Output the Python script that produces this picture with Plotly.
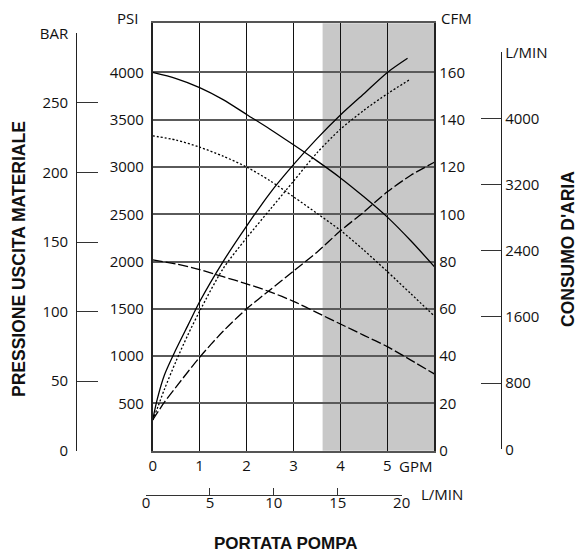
import plotly.graph_objects as go

W, H = 580, 554

# ---------------- data ----------------
gpm_ticks = [0, 1, 2, 3, 4, 5]
psi_ticks = [500, 1000, 1500, 2000, 2500, 3000, 3500, 4000]
cfm_ticks = [0, 20, 40, 60, 80, 100, 120, 140, 160]
bar_ticks = [0, 50, 100, 150, 200, 250, 300]
bar_text = ["0", "50", "100", "150", "200", "250", "BAR"]
air_lmin_ticks = [0, 800, 1600, 2400, 3200, 4000, 4800]
air_lmin_text = ["0", "800", "1600", "2400", "3200", "4000", "L/MIN"]
flow_lmin_ticks = [0, 5, 10, 15, 20]

shade_gpm = [3.62, 6.0]

# material pressure curves (PSI vs GPM)
p_solid_gpm = [0, 0.5, 1, 1.5, 2, 2.5, 3, 3.5, 4, 4.5, 5, 5.5, 6]
p_solid_psi = [4000, 3935, 3840, 3713, 3556, 3400, 3235, 3065, 2885, 2685, 2470, 2220, 1947]

p_dot_gpm = [0, 0.5, 1, 1.5, 2, 2.5, 3, 3.5, 4, 4.5, 5, 5.5, 6]
p_dot_psi = [3330, 3285, 3210, 3115, 3000, 2855, 2685, 2510, 2330, 2120, 1894, 1660, 1425]

p_dash_gpm = [0, 0.5, 1, 1.5, 2, 2.5, 3, 3.5, 4, 4.5, 5, 5.5, 6]
p_dash_psi = [2018, 1975, 1915, 1840, 1765, 1680, 1580, 1460, 1340, 1220, 1100, 958, 812]

# air consumption curves (CFM vs GPM)
a_solid_gpm = [0, 0.1, 0.25, 0.5, 0.75, 1, 1.5, 2, 2.5, 3, 3.5, 4, 4.5, 5, 5.43]
a_solid_cfm = [13, 22, 32, 43, 53, 63, 80, 95, 109, 121, 132, 142, 151, 160, 166]

a_dot_gpm = [0, 0.1, 0.25, 0.5, 0.75, 1, 1.5, 2, 2.5, 3, 3.5, 4, 4.5, 5, 5.48]
a_dot_cfm = [13, 18, 26, 38, 49, 59, 77, 90, 102, 114, 126, 136, 144, 151, 157]

a_dash_gpm = [0, 0.25, 0.5, 1, 1.5, 2, 2.5, 3, 3.5, 4, 4.5, 5, 5.5, 6]
a_dash_cfm = [13, 20.5, 27, 39.5, 50.5, 60, 68, 76, 84, 93, 101, 109.5, 116.5, 122]

# ---------------- layout geometry (pixels) ----------------
def fx(px):
    return px / W

def fy(py):
    return (H - py) / H

BOX_L, BOX_R, BOX_T, BOX_B = 152.7, 434.3, 23.3, 450.7
PSI_MAX = 4520
GPM_MAX = 6

TICK_FONT = dict(family="Open Sans, Noto Sans, sans-serif", size=15, color="#111")
TITLE_FONT = dict(family="Liberation Sans, Arial, sans-serif", size=17.5, color="#111", weight=700)

fig = go.Figure()

line_w = 1.3
SM = 0.8
def curve(x, y, yaxis, dash=None):
    fig.add_trace(go.Scatter(x=x, y=y, mode="lines", line_shape="spline",
                             line=dict(color="black", width=line_w, dash=dash, smoothing=SM),
                             xaxis="x", yaxis=yaxis, hoverinfo="skip"))

curve(p_solid_gpm, p_solid_psi, "y")
curve(p_dot_gpm, p_dot_psi, "y", "2px,2px")
curve(p_dash_gpm, p_dash_psi, "y", "10px,3px")
curve(a_solid_gpm, a_solid_cfm, "y2")
curve(a_dot_gpm, a_dot_cfm, "y2", "2px,2px")
curve(a_dash_gpm, a_dash_cfm, "y2", "10px,3px")

# empty traces so the auxiliary axes get their own (non-overlapping) subplots
fig.add_trace(go.Scatter(x=[None], y=[None], xaxis="x2", yaxis="y5", hoverinfo="skip"))
fig.add_trace(go.Scatter(x=[None], y=[None], xaxis="x3", yaxis="y3", hoverinfo="skip"))
fig.add_trace(go.Scatter(x=[None], y=[None], xaxis="x4", yaxis="y4", hoverinfo="skip"))

fig.add_shape(type="rect", xref="x", yref="y domain", x0=shade_gpm[0], x1=shade_gpm[1],
              y0=0, y1=1, fillcolor="#c8c8c8", line=dict(width=0), layer="below")

hidden = dict(visible=False, automargin=False, showgrid=False, zeroline=False, fixedrange=True)

fig.update_layout(
    width=W, height=H, margin=dict(l=0, r=0, t=0, b=0, autoexpand=False),
    paper_bgcolor="white", plot_bgcolor="rgba(0,0,0,0)",
    showlegend=False,
    xaxis=dict(domain=[fx(BOX_L), fx(BOX_R)], range=[0, GPM_MAX], anchor="y", automargin=False,
               tickvals=gpm_ticks, ticktext=[str(v) for v in gpm_ticks],
               showgrid=True, gridcolor="#111", gridwidth=1.3, zeroline=False,
               showline=True, mirror=True, linecolor="#555", linewidth=1.5,
               ticks="", tickfont=TICK_FONT, ticklabelstandoff=1),
    yaxis=dict(domain=[fy(BOX_B), fy(BOX_T)], range=[0, PSI_MAX], anchor="x", automargin=False,
               tickvals=psi_ticks, showgrid=True, gridcolor="#5a5a5a", gridwidth=1.6,
               zeroline=False, showline=True, mirror=True, linecolor="#222", linewidth=1.5,
               ticks="", tickfont=TICK_FONT, ticklabelstandoff=4),
    yaxis2=dict(overlaying="y", side="right", anchor="x", range=[0, PSI_MAX / 25], automargin=False,
                tickvals=cfm_ticks, showgrid=False, zeroline=False, showline=False,
                ticks="", tickfont=TICK_FONT, ticklabelstandoff=4),
    # pump flow in L/MIN (bottom scale)
    xaxis2=dict(domain=[fx(146), fx(401.7)], range=[0, 20], anchor="y5", automargin=False,
                side="bottom", tickvals=flow_lmin_ticks, showgrid=False, zeroline=False,
                showline=True, linecolor="#333", linewidth=1.2,
                ticks="inside", ticklen=7, tickcolor="#333", tickwidth=1.2,
                tickfont=TICK_FONT, ticklabelstandoff=-6),
    yaxis5=dict(domain=[fy(495), fy(494)], range=[0, 1], anchor="x2", **hidden),
    # BAR scale (left)
    yaxis3=dict(domain=[fy(450.7), fy(33.3)], range=[0, 300], anchor="x3", automargin=False,
                side="left", tickvals=bar_ticks, ticktext=bar_text, showgrid=False, zeroline=False,
                showline=True, linecolor="#222", linewidth=1.3,
                ticks="inside", ticklen=21, tickcolor="#333", tickwidth=1.3,
                tickfont=TICK_FONT, ticklabelstandoff=5),
    xaxis3=dict(domain=[fx(77.3), fx(110)], range=[0, 1], anchor="y3", **hidden),
    # air consumption L/MIN scale (right)
    yaxis4=dict(domain=[fy(449.3), fy(52.3)], range=[0, 4800], anchor="x4", automargin=False,
                side="right", tickvals=air_lmin_ticks, ticktext=air_lmin_text,
                showgrid=False, zeroline=False,
                showline=True, linecolor="#222", linewidth=1.3,
                ticks="inside", ticklen=20, tickcolor="#333", tickwidth=1.3,
                tickfont=TICK_FONT, ticklabelstandoff=0),
    xaxis4=dict(domain=[fx(470), fx(501)], range=[0, 1], anchor="y4", **hidden),
)

def ann(text, x, y, xanchor="center", yanchor="middle", font=TICK_FONT, angle=0):
    fig.add_annotation(text=text, x=fx(x), y=fy(y), xref="paper", yref="paper",
                       xanchor=xanchor, yanchor=yanchor, showarrow=False,
                       font=font, textangle=angle)

ann("PSI", 127, 18)
ann("CFM", 439, 18, xanchor="left")
ann("GPM", 415, 466)
ann("L/MIN", 419, 494, xanchor="left")
ann("PORTATA POMPA", 286, 543, font=dict(TITLE_FONT, size=17))
ann("PRESSIONE USCITA MATERIALE", 19, 259, font=TITLE_FONT, angle=-90)
ann("CONSUMO D'ARIA", 568, 249, font=TITLE_FONT, angle=-90)

fig.write_html("out.html", config={"displayModeBar": False},
               post_script="document.body.style.margin='0';")
